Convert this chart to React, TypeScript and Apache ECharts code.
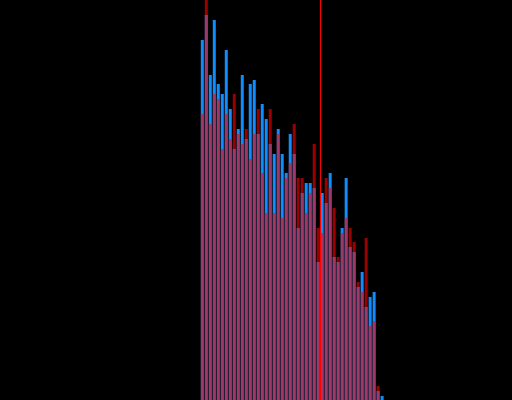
import React, { useEffect, useRef } from "react";
import * as echarts from "echarts";

const bins = [50, 51, 52, 53, 54, 55, 56, 57, 58, 59, 60, 61, 62, 63, 64, 65, 66, 67, 68, 69, 70, 71, 72, 73, 74, 75, 76, 77, 78, 79, 80, 81, 82, 83, 84, 85, 86, 87, 88, 89, 90, 91, 92, 93, 94, 95];

const blueValues = [360, 385, 325, 380, 316, 306, 350, 291, 251, 271, 325, 261, 316, 320, 266, 296, 281, 256, 246, 271, 246, 227, 266, 246, 172, 207, 217, 217, 212, 138, 207, 197, 227, 143, 138, 172, 222, 153, 148, 113, 128, 93, 103, 108, 9, 4];

const redValues = [286, 420, 276, 306, 301, 251, 286, 261, 306, 266, 256, 271, 241, 266, 291, 227, 187, 291, 187, 266, 182, 222, 237, 276, 222, 222, 187, 207, 256, 172, 167, 222, 212, 192, 143, 167, 182, 172, 158, 118, 108, 162, 74, 79, 14, 0];

const markerX = 79.5;

export default function App() {
  const ref = useRef<HTMLDivElement>(null);
  useEffect(() => {
    if (!ref.current) return;
    const chart = echarts.init(ref.current, undefined, { renderer: "svg" });
    chart.setOption({
      animation: false,
      backgroundColor: "#000000",
      grid: { left: 0.5, top: 0, width: 512, height: 400, containLabel: false },
      xAxis: {
        type: "value",
        min: -0.5,
        max: 127.5,
        show: false,
        splitLine: { show: false },
      },
      yAxis: {
        type: "value",
        min: 0,
        max: 400,
        show: false,
        splitLine: { show: false },
      },
      series: [
        {
          type: "bar",
          data: bins.map((b, i) => [b, blueValues[i]]),
          barWidth: 3,
          barGap: "-100%",
          itemStyle: { color: "#108cff" },
          clip: true,
        },
        {
          type: "bar",
          data: bins.map((b, i) => [b, redValues[i]]),
          barWidth: 3,
          barGap: "-100%",
          itemStyle: { color: "#ff0000", opacity: 0.6 },
          clip: true,
          markLine: {
            silent: true,
            symbol: "none",
            label: { show: false },
            lineStyle: { color: "#ff0000", width: 1, type: "solid", opacity: 1 },
            data: [{ xAxis: markerX }],
          },
        },
      ],
    });
    return () => chart.dispose();
  }, []);
  return (
    <div
      ref={ref}
      style={{ position: "fixed", left: 0, top: 0, width: 512, height: 400 }}
    />
  );
}
